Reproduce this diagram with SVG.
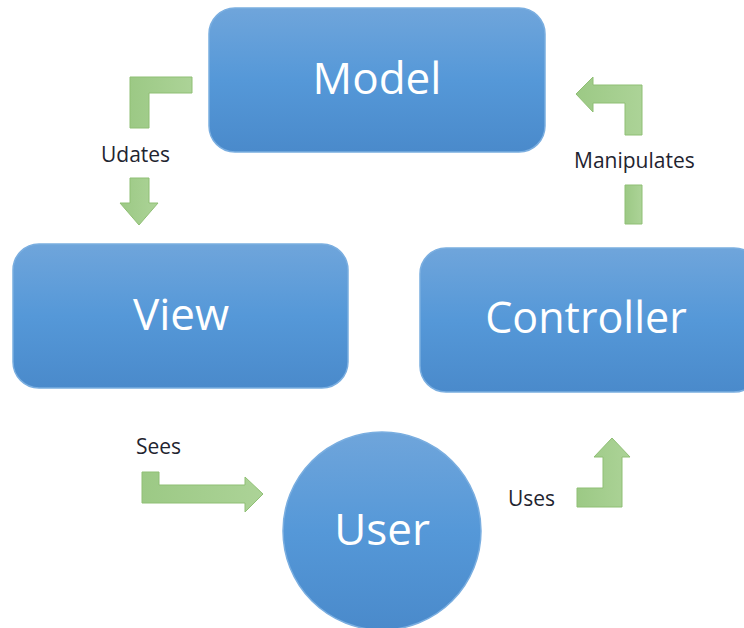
<svg xmlns="http://www.w3.org/2000/svg" width="744" height="628" viewBox="0 0 744 628">
  <defs>
    <linearGradient id="blueFill" x1="0" y1="0" x2="0" y2="1">
      <stop offset="0" stop-color="#6fa5db"/>
      <stop offset="0.5" stop-color="#5598d8"/>
      <stop offset="1" stop-color="#4a8acb"/>
    </linearGradient>
    <linearGradient id="greenFill" x1="0" y1="0" x2="1" y2="0">
      <stop offset="0" stop-color="#9cc985"/>
      <stop offset="1" stop-color="#acd397"/>
    </linearGradient>
  </defs>
  <style>
    .box { fill: url(#blueFill); stroke: #7aaee0; stroke-width: 1.5; }
    .node-label { font-family: "Open Sans", "Noto Sans", sans-serif; fill: #ffffff; text-anchor: middle; }
    .arrow { fill: url(#greenFill); stroke: #8fbf74; stroke-width: 1; }
    .edge-label { font-family: "Open Sans", "Noto Sans", sans-serif; font-size: 21px; fill: #1f2430; }
  </style>

  <g id="model">
    <rect class="box" x="209" y="8" width="336" height="144" rx="26"/>
    <text class="node-label" x="377" y="94" font-size="44">Model</text>
  </g>

  <g id="view">
    <rect class="box" x="13" y="244" width="335" height="144" rx="26"/>
    <text class="node-label" x="181" y="330" font-size="44">View</text>
  </g>

  <g id="controller">
    <rect class="box" x="420" y="248" width="340" height="144" rx="26"/>
    <text class="node-label" x="586" y="333" font-size="43">Controller</text>
  </g>

  <g id="user">
    <circle class="box" cx="382" cy="531" r="99"/>
    <text class="node-label" x="382" y="545" font-size="44">User</text>
  </g>

  <g id="connectors">
    <!-- Model updates View -->
    <path class="arrow" d="M192,77 L192,93 L149,93 L149,128 L130,128 L130,77 Z"/>
    <path class="arrow" d="M130,178 L149,178 L149,203 L158,203 L139,225 L120,203 L130,203 Z"/>
    <text class="edge-label" x="101" y="162">Udates</text>

    <!-- Controller manipulates Model -->
    <path class="arrow" d="M625,224 L642,224 L642,185 L625,185 Z"/>
    <path class="arrow" d="M625,135 L642,135 L642,85 L593,85 L593,77 L576,94 L593,112 L593,103 L625,103 Z"/>
    <text class="edge-label" x="574" y="168">Manipulates</text>

    <!-- View is seen by User -->
    <path class="arrow" d="M142,472 L159,472 L159,485 L245,485 L245,477 L263,494 L245,512 L245,503 L142,503 Z"/>
    <text class="edge-label" x="136" y="454">Sees</text>

    <!-- User uses Controller -->
    <path class="arrow" d="M577,488 L603,488 L603,457 L594,457 L612,438 L630,457 L622,457 L622,507 L577,507 Z"/>
    <text class="edge-label" x="508" y="506">Uses</text>
  </g>
</svg>
